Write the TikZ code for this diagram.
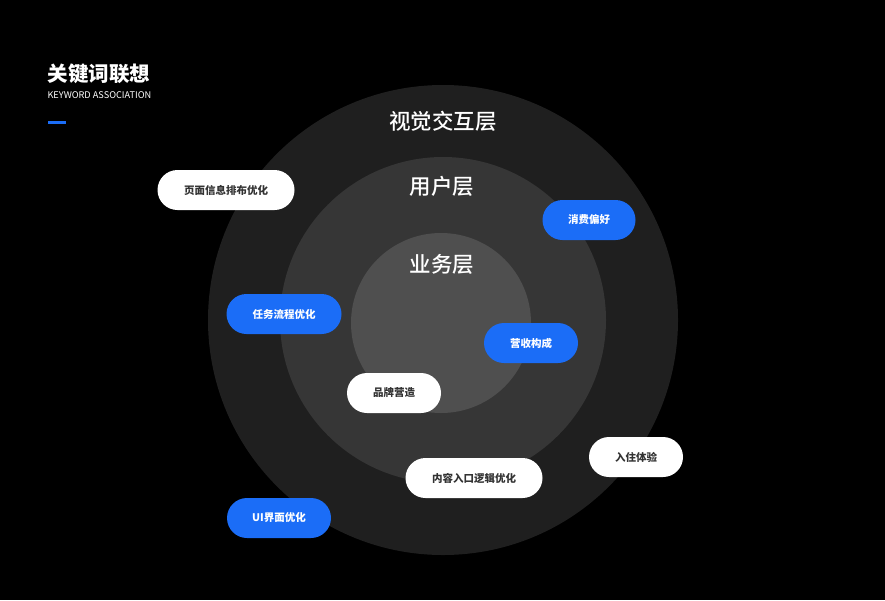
\documentclass[tikz,border=0pt]{standalone}
\usepackage{fontspec}
\setmainfont{Noto Sans CJK SC}
\newfontfamily\cjkmedium{Noto Sans CJK SC Medium}
\newfontfamily\cjkblack{Noto Sans CJK SC Black}
\definecolor{ringA}{HTML}{1F1F1F}
\definecolor{ringB}{HTML}{363636}
\definecolor{ringC}{HTML}{4F4F4F}
\definecolor{pillblue}{HTML}{1B6DF7}
\definecolor{pilltext}{HTML}{333333}
\begin{document}
\begin{tikzpicture}[x=1pt,y=-1pt,
  pill/.style={rounded corners=20pt, minimum height=40pt, inner sep=0pt, font=\fontsize{10.5}{12}\selectfont\bfseries},
  whitepill/.style={pill, fill=white, text=pilltext},
  bluepill/.style={pill, fill=pillblue, text=white},
  layer/.style={text=white, font=\fontsize{21.5}{24}\selectfont\cjkmedium}]
\useasboundingbox (0,0) rectangle (885,600);
\fill[black] (0,0) rectangle (885,600);
\fill[ringA] (443,320) circle[radius=235];
\fill[ringB] (443,320) circle[radius=163];
\fill[ringC] (441,323) circle[radius=90];
\node[layer] (l1) at (443,121) {视觉交互层};
\node[layer] (l2) at (442,186) {用户层};
\node[layer] (l3) at (442,264) {业务层};
\node[anchor=west, text=white, font=\fontsize{20.5}{22}\selectfont\cjkblack] (title) at (44,74) {关键词联想};
\node[anchor=west, text=white, font=\fontsize{9.2}{10}\selectfont] (sub) at (44,95) {KEYWORD ASSOCIATION};
\fill[pillblue] (48,120.5) rectangle (66,123.5);
\node[whitepill, minimum width=137pt] (p1) at (226,190) {页面信息排布优化};
\node[bluepill, minimum width=93pt] (p2) at (589,220) {消费偏好};
\node[bluepill, minimum width=115pt] (p3) at (284,314) {任务流程优化};
\node[bluepill, minimum width=94pt] (p4) at (531,343) {营收构成};
\node[whitepill, minimum width=94pt] (p5) at (394,393) {品牌营造};
\node[whitepill, minimum width=94pt] (p6) at (636,457) {入住体验};
\node[whitepill, minimum width=137pt] (p7) at (474,478) {内容入口逻辑优化};
\node[bluepill, minimum width=104pt] (p8) at (279,518) {UI界面优化};
\end{tikzpicture}
\end{document}
